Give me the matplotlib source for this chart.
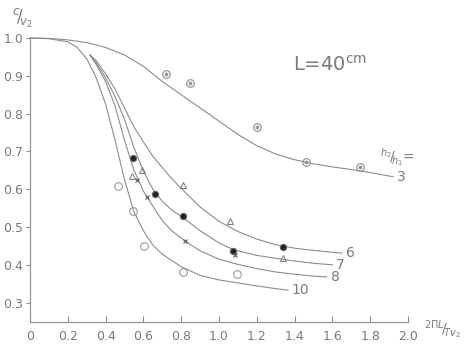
import numpy as np
import matplotlib
matplotlib.use('Agg')
import matplotlib.pyplot as plt

# curves (x = 2*pi*L/(T*v2), y = c/v2)
x3 = [0, 0.1, 0.2, 0.3, 0.4, 0.5, 0.6, 0.7, 0.8, 0.9, 1.0, 1.1, 1.2, 1.3, 1.4, 1.5, 1.6, 1.7, 1.8, 1.92]
y3 = [1.0, 0.999, 0.995, 0.988, 0.975, 0.955, 0.925, 0.885, 0.85, 0.815, 0.78, 0.745, 0.715,
      0.693, 0.678, 0.667, 0.659, 0.652, 0.644, 0.633]

x6 = [0.317, 0.35, 0.4, 0.45, 0.5, 0.55, 0.6, 0.65, 0.7, 0.75, 0.8, 0.9, 1.0, 1.1, 1.2, 1.3,
      1.4, 1.5, 1.65]
y6 = [0.955, 0.94, 0.905, 0.865, 0.815, 0.765, 0.725, 0.687, 0.657, 0.628, 0.602, 0.553,
      0.515, 0.488, 0.468, 0.453, 0.444, 0.438, 0.431]

x7 = [0.317, 0.35, 0.4, 0.45, 0.5, 0.55, 0.6, 0.65, 0.7, 0.75, 0.81, 0.9, 1.0, 1.075, 1.2,
      1.3, 1.4, 1.5, 1.6]
y7 = [0.955, 0.935, 0.895, 0.845, 0.785, 0.71, 0.648, 0.6, 0.568, 0.545, 0.525, 0.49, 0.458,
      0.44, 0.425, 0.417, 0.41, 0.404, 0.4]

x8 = [0.317, 0.35, 0.4, 0.45, 0.5, 0.55, 0.6, 0.65, 0.7, 0.75, 0.82, 0.9, 1.0, 1.1, 1.2, 1.3,
      1.4, 1.5, 1.57]
y8 = [0.955, 0.93, 0.885, 0.82, 0.73, 0.65, 0.595, 0.555, 0.517, 0.49, 0.463, 0.437, 0.415,
      0.401, 0.39, 0.381, 0.375, 0.37, 0.368]

x10 = [0, 0.1, 0.2, 0.25, 0.3, 0.35, 0.4, 0.45, 0.5, 0.55, 0.6, 0.65, 0.7, 0.8, 0.9, 1.0, 1.1,
       1.2, 1.3, 1.365]
y10 = [1.0, 0.998, 0.99, 0.975, 0.945, 0.895, 0.825, 0.73, 0.625, 0.54, 0.49, 0.452, 0.428,
       0.395, 0.372, 0.36, 0.352, 0.344, 0.337, 0.333]

# measured points
dot_circ_x = [0.72, 0.847, 1.2, 1.46, 1.746]
dot_circ_y = [0.905, 0.881, 0.765, 0.672, 0.659]

tri_x = [0.54, 0.593, 0.81, 1.058, 1.339]
tri_y = [0.635, 0.651, 0.611, 0.516, 0.418]

black_x = [0.545, 0.661, 0.81, 1.075, 1.339]
black_y = [0.683, 0.587, 0.529, 0.437, 0.447]

cross_x = [0.566, 0.619, 0.82, 1.085]
cross_y = [0.624, 0.579, 0.463, 0.426]

open_x = [0.466, 0.545, 0.605, 0.81, 1.095]
open_y = [0.608, 0.542, 0.45, 0.38, 0.376]

curve_labels = ['3', '6', '7', '8', '10']

line_c = '#8c8c8c'
text_c = '#7a7a7a'

fig = plt.figure(figsize=(4.66, 3.51), dpi=100)
ax = fig.add_axes([30 / 466, 1 - 321.5 / 351, 378 / 466, 283.5 / 351])

curves = [(x3, y3), (x6, y6), (x7, y7), (x8, y8), (x10, y10)]
for (cx, cy), lab in zip(curves, curve_labels):
    ax.plot(cx, cy, color=line_c, lw=0.8, clip_on=False, solid_joinstyle='round')
    ax.text(cx[-1] + 0.02, cy[-1], lab, color=text_c, fontsize=10,
            va='center', ha='left')

ax.plot(dot_circ_x, dot_circ_y, 'o', ms=5.5, mfc='none', mec='#999', mew=0.9)
ax.plot(dot_circ_x, dot_circ_y, 'o', ms=1.8, color='#999')
ax.plot(tri_x, tri_y, '^', ms=4.5, mfc='none', mec='#777', mew=0.7)
ax.plot(black_x, black_y, 'o', ms=4.5, mfc='#222', mec='#666', mew=0.8)
ax.plot(cross_x, cross_y, 'x', ms=3.2, color='#555', mew=0.8)
ax.plot(open_x, open_y, 'o', ms=5.5, mfc='none', mec='#999', mew=0.8)

ax.text(1.39, 0.93, r'L=40$^{\rm cm}$', color=text_c, fontsize=14, va='center')
ax.text(1.85, 0.685, r'$^{h_2}\!/\!_{h_1}$=', color=text_c, fontsize=10, va='center')

ax.set_xlim(0, 2.0)
ax.set_ylim(0.25, 1.0)
ax.set_xticks(np.arange(0, 2.01, 0.2))
ax.set_xticklabels(['0'] + ['%.1f' % v for v in np.arange(0.2, 2.01, 0.2)])
ax.set_yticks(np.arange(0.3, 1.01, 0.1))
ax.set_yticklabels(['%.1f' % v for v in np.arange(0.3, 1.01, 0.1)])

for s in ['top', 'right']:
    ax.spines[s].set_visible(False)
for s in ['left', 'bottom']:
    ax.spines[s].set_color(line_c)
    ax.spines[s].set_linewidth(0.8)
ax.tick_params(axis='x', direction='in', length=4, color=line_c,
               labelcolor=text_c, labelsize=9, pad=6)
ax.tick_params(axis='y', direction='out', length=3, color=line_c,
               labelcolor=text_c, labelsize=9, pad=2)

fig.text(22 / 466, 1 - 18 / 351, r'$^{c}\!/\!_{v_2}$', color=text_c,
         fontsize=12, ha='center', va='center')
fig.text(442 / 466, 1 - 330 / 351, r'$^{2\Pi L}\!/\!_{Tv_2}$', color=text_c,
         fontsize=10, ha='center', va='center')

fig.savefig('out.png', dpi=100)
